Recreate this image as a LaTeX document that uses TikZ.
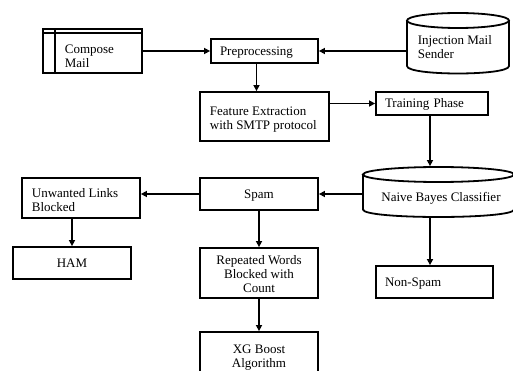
\documentclass[tikz,border=0pt]{standalone}
\usepackage{fontspec}
\setmainfont{Liberation Serif}
\usetikzlibrary{arrows.meta}
\begin{document}
\begin{tikzpicture}[x=1pt,y=-1pt,
  line width=1.8pt,
  fnt/.style={font=\fontsize{13}{14}\selectfont},
  box/.style={draw, rectangle, inner ysep=0pt, inner xsep=9pt, fnt},
  lbox/.style={box, align=left},
  cbox/.style={box, align=center},
  oneline/.style={text height=8.6pt, text depth=0pt},
  txt/.style={inner sep=0pt, fnt, align=left, anchor=west},
  ctxt/.style={inner sep=0pt, fnt, align=center},
  ghost/.style={inner sep=0pt, rectangle},
  arr/.style={-{Triangle[length=6pt,width=6pt]}},
]
\useasboundingbox (0,0) rectangle (513,371);
\clip (0,0) rectangle (513,371);

% Compose Mail
\node[box, minimum width=99pt, minimum height=44pt] (compose) at (92.5,51) {};
\draw ([xshift=13pt]compose.north west) -- ([xshift=13pt]compose.south west);
\draw ([yshift=-5pt]compose.north west) -- ([yshift=-5pt]compose.north east);
\node[txt] (composetxt) at (64,56) {Compose\\Mail};

% Preprocessing
\node[lbox, oneline, minimum height=24pt, text width=89pt] (prep) at (264.5,51) {Preprocessing};

% Injection Mail Sender cylinder
\draw (407,20.5) -- (407,66) .. controls (407,76) and (509,76) .. (509,66) -- (509,20.5);
\draw (458,20.5) ellipse [x radius=51pt, y radius=7.5pt];
\node[ghost, minimum width=102pt, minimum height=61pt] (inj) at (458,43.5) {};
\node[txt] (injtxt) at (417,47) {Injection Mail\\Sender};

% Feature Extraction
\node[box, minimum height=49pt, minimum width=129pt] (feat) at (264.5,116.5) {};
\node[txt] (feattxt) at (209,119.5) {Feature Extraction\\with SMTP protocol};

% Training Phase
\node[lbox, oneline, minimum height=23pt, text width=94pt] (train) at (432,103.5) {Training Phase};

% Naive Bayes cylinder
\draw (363,174.5) -- (363,209.5) .. controls (363,219.5) and (514,219.5) .. (514,209.5) -- (514,174.5);
\draw (438.5,174.5) ellipse [x radius=75.5pt, y radius=7.5pt];
\node[ghost, minimum width=151pt, minimum height=50pt] (naive) at (438.5,192) {};
\node[inner sep=0pt, fnt, oneline] (naivetxt) at (441,197) {Naive Bayes Classifier};

% Spam
\node[cbox, oneline, minimum height=32pt, text width=100pt] (spam) at (259,194) {Spam};

% Unwanted Links Blocked
\node[box, minimum height=40pt, minimum width=118pt] (unw) at (81,198) {};
\node[txt] (unwtxt) at (31,200) {Unwanted Links\\Blocked};

% HAM
\node[cbox, oneline, minimum height=32pt, text width=100pt] (ham) at (72,263) {HAM};

% Repeated Words
\node[box, minimum height=50pt, minimum width=118pt] (rep) at (259,273) {};
\node[ctxt] (reptxt) at (259,274.5) {Repeated Words\\Blocked with\\Count};

% XG Boost
\node[box, minimum height=42pt, minimum width=118pt] (xg) at (259,353) {};
\node[ctxt] (xgtxt) at (259,357.5) {XG Boost\\Algorithm};

% Non-Spam
\node[lbox, oneline, minimum height=32pt, text width=99pt] (nonspam) at (434.5,282) {Non-Spam};

% connectors
\draw[arr] (compose.east) -- (prep.west);
\draw[arr] (inj.west |- prep.east) -- (prep.east);
\draw[arr] ([xshift=-8pt]prep.south) -- ([xshift=-8pt]prep.south |- feat.north);
\draw[arr] (feat.east |- train.west) -- (train.west);
\draw[arr] ([xshift=-2pt]train.south) -- ([xshift=-2pt]train.south |- naive.north);
\draw[arr] (spam.east -| naive.west) -- (spam.east);
\draw[arr] (spam.west) -- (spam.west -| unw.east);
\draw[arr] (ham.north |- unw.south) -- (ham.north);
\draw[arr] (spam.south) -- (rep.north);
\draw[arr] (rep.south) -- (xg.north);
\draw[arr] ([xshift=-2pt]train.south |- naive.south) -- ([xshift=-2pt]train.south |- nonspam.north);
\end{tikzpicture}
\end{document}
